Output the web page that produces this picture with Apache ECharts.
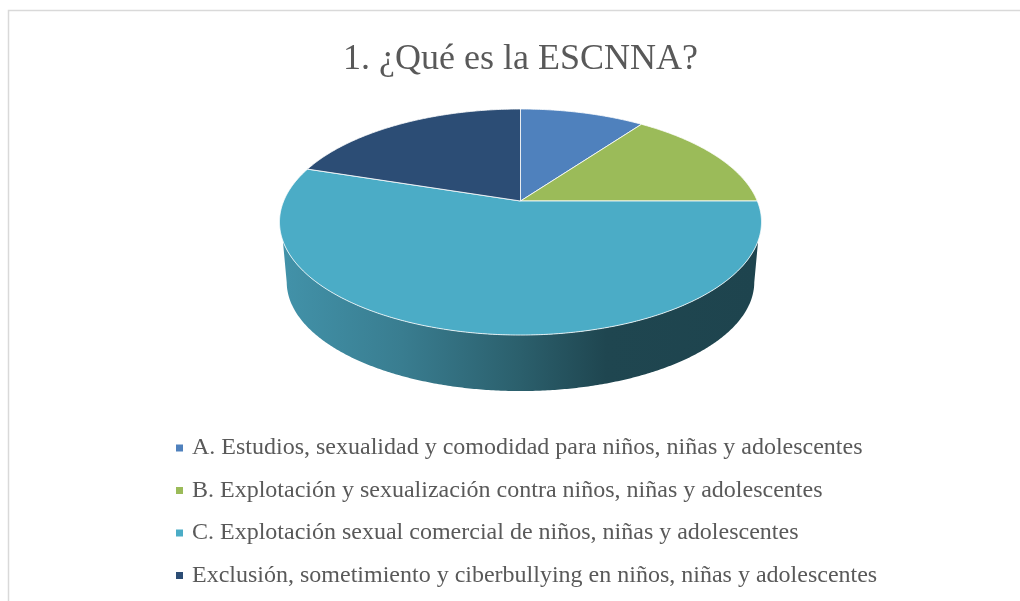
<!DOCTYPE html>
<html>
<head>
<meta charset="utf-8">
<style>html,body{margin:0;padding:0;background:#fff}#c{width:1020px;height:601px}</style>
<script src="https://cdn.jsdelivr.net/npm/echarts@6/dist/echarts.min.js"></script>
</head>
<body>
<div id="c"></div>
<script>
const chartTitle = '1. ¿Qué es la ESCNNA?';
const categories = [
  'A. Estudios, sexualidad y comodidad para niños, niñas y adolescentes',
  'B. Explotación y sexualización contra niños, niñas y adolescentes',
  'C. Explotación sexual comercial de niños, niñas y adolescentes',
  'Exclusión, sometimiento y ciberbullying en niños, niñas y adolescentes'
];
const values = [10, 15, 55, 20];
const colors = ['#4f81bd', '#9bbb59', '#4bacc6', '#2c4d75'];
const sideOffsets = [0, 0.25, 0.5, 0.68, 1];
const sideShades = ['#4292a9', '#397d90', '#2b5f6c', '#1f4650', '#1e444e'];

const total = values.reduce((a, b) => a + b, 0);
// perspective projection of the pie disc
const P = { cx: 520.5, cy: 201, a: 109.1, b: 236.8, k: -0.186, midY: 222, botY: 282, sx: 0.97, sy: 0.965 };
function topPoint(t) {
  const u = Math.sin(t), v = -Math.cos(t), d = 1 + P.k * v;
  return [P.cx + P.b * u / d, P.cy + P.a * v / d];
}
function bottomPoint(t) {
  const p = topPoint(t);
  return [P.cx + (p[0] - P.cx) * P.sx, P.botY + (p[1] - P.midY) * P.sy];
}
function arc(a0, a1) {
  const out = [], n = Math.max(2, Math.ceil((a1 - a0) / (Math.PI / 360)));
  for (let i = 0; i <= n; i++) out.push(a0 + (a1 - a0) * i / n);
  return out;
}
function renderSlice(idx) {
  return function (params, api) {
    const before = values.slice(0, idx).reduce((a, b) => a + b, 0);
    const a0 = before / total * 2 * Math.PI;
    const a1 = (before + api.value(0)) / total * 2 * Math.PI;
    const angles = arc(a0, a1);
    const children = [];
    const frontTop = angles.filter(t => topPoint(t)[1] >= 240).map(topPoint);
    const frontBot = angles.filter(t => topPoint(t)[1] >= P.midY).map(bottomPoint).reverse();
    if (frontTop.length && frontBot.length) {
      children.push({
        type: 'polygon',
        shape: { points: frontTop.concat(frontBot) },
        style: {
          fill: {
            type: 'linear', x: 0, y: 0, x2: 1, y2: 0,
            colorStops: sideOffsets.map((o, i) => ({ offset: o, color: sideShades[i] }))
          }
        }
      });
    }
    children.push({
      type: 'polygon',
      shape: { points: [[P.cx, P.cy]].concat(angles.map(topPoint)) },
      style: { fill: colors[idx], stroke: 'rgba(255,255,255,0.8)', lineWidth: 1, lineJoin: 'round' }
    });
    return { type: 'group', children };
  };
}
const chart = echarts.init(document.getElementById('c'), null, { renderer: 'canvas' });
chart.setOption({
  animation: false,
  backgroundColor: '#ffffff',
  textStyle: { fontFamily: '"Liberation Serif"' },
  title: {
    text: chartTitle, left: 343, top: 37,
    textStyle: { fontFamily: '"Liberation Serif"', fontSize: 36, fontWeight: 'normal', color: '#595959' }
  },
  legend: {
    show: true, orient: 'vertical', left: 176, top: 436, icon: 'rect',
    itemWidth: 7, itemHeight: 7, itemGap: 18.5, padding: 0, selectedMode: false,
    data: categories,
    textStyle: { fontFamily: '"Liberation Serif"', fontSize: 24, color: '#595959', padding: [0, 0, 0, 4], lineHeight: 24 }
  },
  graphic: [{
    type: 'polyline', silent: true,
    shape: { points: [[1020, 10.5], [8.5, 10.5], [8.5, 601]] },
    style: { stroke: '#d9d9d9', lineWidth: 1.5, fill: 'none' }
  }],
  series: categories.map((name, i) => ({
    name, type: 'custom', coordinateSystem: 'none', silent: true,
    itemStyle: { color: colors[i] },
    renderItem: renderSlice(i),
    data: [[values[i]]]
  }))
});
chart.setOption({ title: { left: 338 } });
</script>
</body>
</html>
